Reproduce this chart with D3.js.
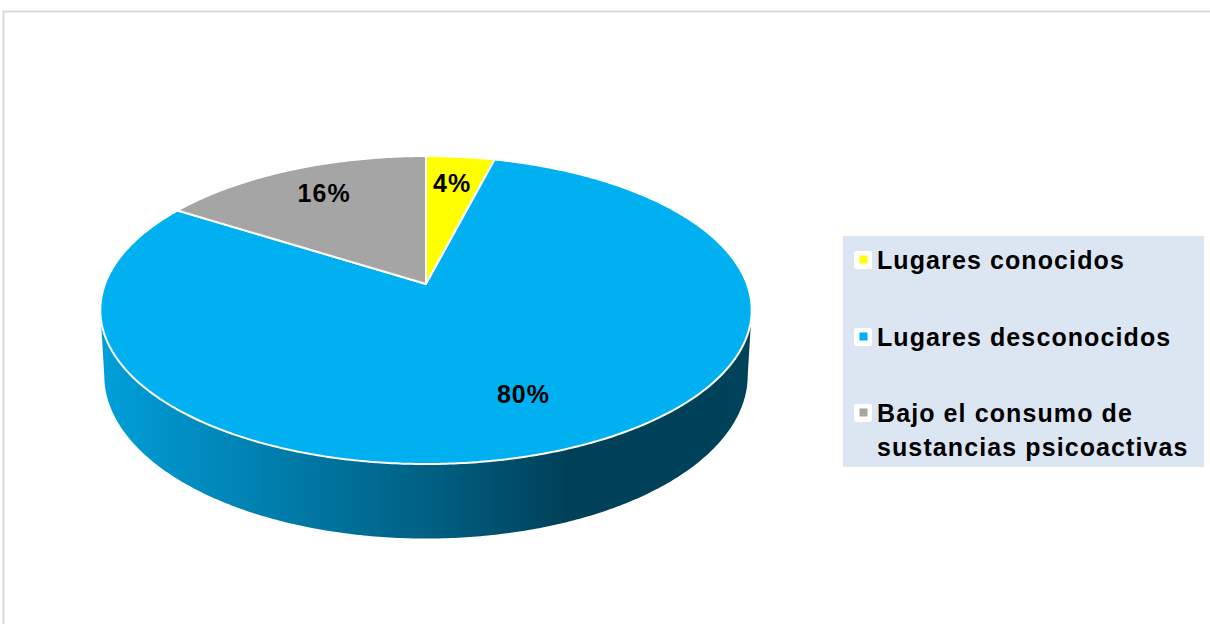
<!DOCTYPE html>
<html>
<head>
<meta charset="utf-8">
<script src="https://cdn.jsdelivr.net/npm/d3@7"></script>
<style>
  body { margin: 0; background: #fff; }
  text { font-family: "Liberation Sans", Arial, sans-serif; font-weight: bold; }
</style>
</head>
<body>
<div id="chart-container"></div>
<script>
// data
const categories = ["Lugares conocidos", "Lugares desconocidos", "Bajo el consumo de sustancias psicoactivas"];
const values = [4, 80, 16];
const labels = ["4%", "80%", "16%"];
const colors = ["#ffff00", "#00b0f0", "#a5a5a5"];

const width = 1210;
const height = 624;

const svg = d3
  .select("#chart-container")
  .append("svg")
  .attr("width", width)
  .attr("height", height);

// outer frame (only left and top edges show)
svg.append("path")
  .attr("d", `M3.5,${height} L3.5,11.5 L${width},11.5`)
  .attr("fill", "none")
  .attr("stroke", "#d9d9d9")
  .attr("stroke-width", 2);

// perspective projection of the tilted pie
const cx = 426, cy = 284;
const A = 321, B = 149.6, tilt = 0.169, depth = 65;
function proj(t, r, h) {
  const u = r * Math.sin(t);
  const v = -r * Math.cos(t);
  const w = 1 - tilt * v + 0.012 * h;
  return [cx + (A * u) / w, cy + (B * v + depth * h) / w];
}

const pie = d3.pie().sort(null).value((d) => d)(values);
const line = d3.line();

function arcPoints(t0, t1, h) {
  const n = Math.max(2, Math.ceil(Math.abs(t1 - t0) / 0.01));
  return d3.range(n + 1).map((i) => proj(t0 + ((t1 - t0) * i) / n, 1, h));
}

const defs = svg.append("defs");

// side wall, only the front half is visible
const tRight = Math.acos(-tilt);
const tLeft = 2 * Math.PI - tRight;
pie.forEach(function (d, i) {
  const s = Math.max(d.startAngle, tRight);
  const e = Math.min(d.endAngle, tLeft);
  if (e <= s) return;
  const base = d3.color(colors[i]);
  const grad = defs.append("linearGradient")
    .attr("id", "side" + i)
    .attr("gradientUnits", "userSpaceOnUse")
    .attr("x1", cx - A).attr("x2", cx + A)
    .attr("y1", 0).attr("y2", 0);
  [[0, 0.3], [0.3, 1.05], [0.52, 1.75], [0.72, 2.8], [1, 2.75]].forEach(function (st) {
    grad.append("stop").attr("offset", st[0]).attr("stop-color", base.darker(st[1]).formatHex());
  });
  const pts = arcPoints(s, e, 0).concat(arcPoints(e, s, 1));
  svg.append("path")
    .attr("d", line(pts) + "Z")
    .attr("fill", `url(#side${i})`);
});

// top face slices
pie.forEach(function (d, i) {
  const pts = [[cx, cy]].concat(arcPoints(d.startAngle, d.endAngle, 0));
  svg.append("path")
    .attr("d", line(pts) + "Z")
    .attr("fill", colors[i])
    .attr("stroke", "#fff")
    .attr("stroke-width", 2)
    .attr("stroke-linejoin", "round");
});

// percentage labels
pie.forEach(function (d, i) {
  const p = proj((d.startAngle + d.endAngle) / 2, 0.73, 0);
  svg.append("text")
    .attr("x", p[0])
    .attr("y", p[1])
    .attr("dy", "0.17em")
    .attr("text-anchor", "middle")
    .attr("font-size", 25)
    .attr("letter-spacing", 1)
    .attr("fill", "#000")
    .text(labels[i]);
});

// legend
const legend = svg.append("g").attr("transform", "translate(843,236)");
legend.append("rect")
  .attr("width", 361)
  .attr("height", 231)
  .attr("fill", "#dce6f2");

const rowY = [24, 101, 177];
categories.forEach(function (c, i) {
  const g = legend.append("g").attr("transform", `translate(0,${rowY[i]})`);
  g.append("rect")
    .attr("x", 11).attr("y", -9)
    .attr("width", 18).attr("height", 18)
    .attr("rx", 2)
    .attr("fill", "#fff");
  g.append("rect")
    .attr("x", 16.5).attr("y", -4.5)
    .attr("width", 8).attr("height", 8)
    .attr("fill", colors[i]);
  const t = g.append("text")
    .attr("x", 34)
    .attr("y", 9)
    .attr("font-size", 25)
    .attr("letter-spacing", 1.1)
    .attr("fill", "#000");
  // wrap long names
  const words = c.split(" ");
  let ln = [];
  let tspan = t.append("tspan").attr("x", 34).attr("dy", 0);
  words.forEach(function (w) {
    ln.push(w);
    tspan.text(ln.join(" "));
    if (tspan.node().getComputedTextLength() > 320 && ln.length > 1) {
      ln.pop();
      tspan.text(ln.join(" "));
      ln = [w];
      tspan = t.append("tspan").attr("x", 34).attr("dy", 34).text(w);
    }
  });
});
</script>
</body>
</html>
